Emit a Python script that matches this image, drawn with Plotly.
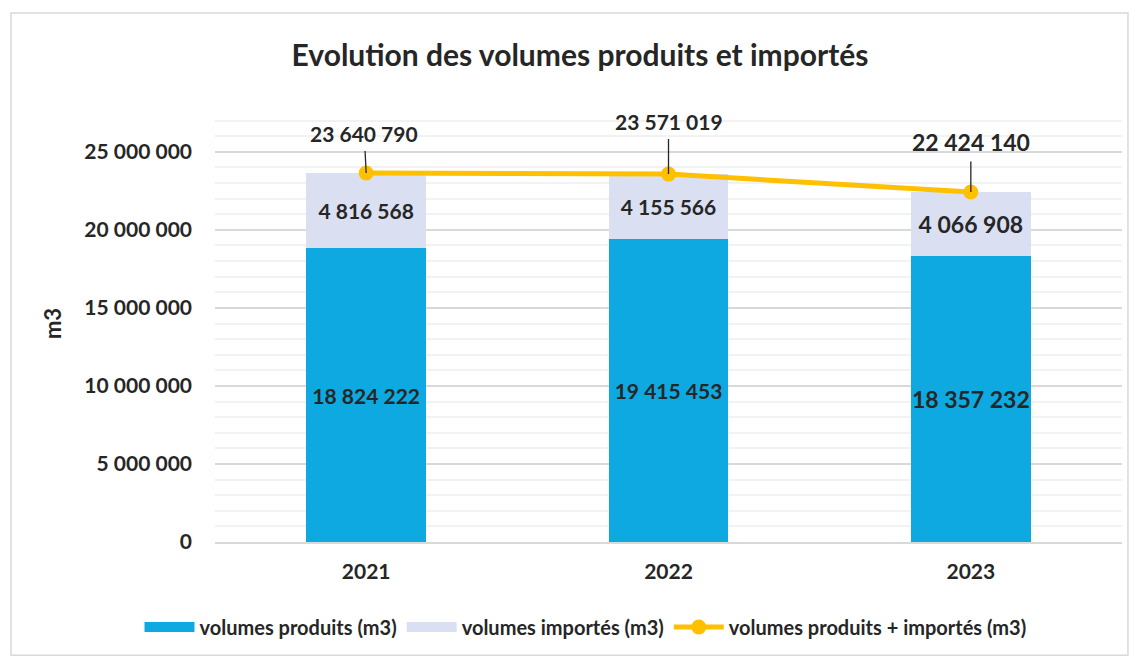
import plotly.graph_objects as go

years = ["2021", "2022", "2023"]
produits = [18824222, 19415453, 18357232]
importes = [4816568, 4155566, 4066908]
totaux = [23640790, 23571019, 22424140]
y_ticks = [0, 5000000, 10000000, 15000000, 20000000, 25000000]

FONT = "Lato"
TXT = "#262626"
C_PROD = "#0DA9E0"
C_IMP = "#DAE0F2"
C_TOT = "#FFC000"
label_sizes = [21, 21, 23]

fig = go.Figure()
fig.add_trace(go.Bar(
    x=years, y=produits, name="volumes produits (m3)",
    legendgroup="prod", showlegend=False,
    marker=dict(color=C_PROD, line=dict(width=0)),
    texttemplate="%{y:,.0f}", textposition="inside", insidetextanchor="middle",
    constraintext="none", textangle=0,
    textfont=dict(family=FONT, size=label_sizes, color=TXT, weight="bold"),
))
fig.add_trace(go.Bar(
    x=years, y=importes, name="volumes importés (m3)",
    legendgroup="imp", showlegend=False,
    marker=dict(color=C_IMP, line=dict(width=0)),
    texttemplate="%{y:,.0f}", textposition="inside", insidetextanchor="middle",
    constraintext="none", textangle=0,
    textfont=dict(family=FONT, size=label_sizes, color=TXT, weight="bold"),
))
fig.add_trace(go.Scatter(
    x=years, y=totaux, name="volumes produits + importés (m3)",
    mode="lines+markers", legendgroup="tot", showlegend=False,
    line=dict(color=C_TOT, width=5),
    marker=dict(color=C_TOT, size=15),
))
# legend entries (wide swatches like the original)
for name, col, grp in [("volumes produits (m3)", C_PROD, "prod"),
                       ("volumes importés (m3)", C_IMP, "imp")]:
    fig.add_trace(go.Scatter(x=[None], y=[None], mode="lines", name=name, legendgroup=grp,
                             line=dict(color=col, width=14), hoverinfo="skip"))
fig.add_trace(go.Scatter(x=[None], y=[None], mode="lines+markers",
                         name="volumes produits + importés (m3)", legendgroup="tot",
                         line=dict(color=C_TOT, width=5), marker=dict(color=C_TOT, size=15),
                         hoverinfo="skip"))

offsets = [(-2, -40), (0, -53), (0, -50)]
for i, (y, (ax, ay)) in enumerate(zip(totaux, offsets)):
    fig.add_annotation(
        x=i, y=y, text=f"{y:,}".replace(",", " "),
        showarrow=True, arrowhead=0, arrowwidth=1.3, arrowcolor=TXT,
        ax=ax, ay=ay, borderpad=5, standoff=0,
        font=dict(family=FONT, size=label_sizes[i], color=TXT, weight="bold"),
    )

fig.add_shape(type="rect", xref="paper", yref="paper",
              x0=-0.2249, x1=1.0066, y0=-0.259, y1=1.2105,
              line=dict(color="#D9D9D9", width=1.5), fillcolor="rgba(0,0,0,0)",
              layer="below")

fig.update_layout(
    width=1138, height=657,
    paper_bgcolor="white", plot_bgcolor="white",
    separators=". ",
    barmode="stack", bargap=0.605,
    margin=dict(l=207, r=24, t=97, b=123),
    font=dict(family=FONT, color=TXT, size=17),
    title=dict(text="<b>Evolution des volumes produits et importés</b>",
               x=572 / 1138, xref="container", xanchor="center",
               y=1 - 47 / 657, yref="container", yanchor="middle",
               font=dict(family=FONT, size=30, color=TXT)),
    legend=dict(orientation="h", x=0.4085, xanchor="center", y=-0.1945, yanchor="middle",
                font=dict(family=FONT, size=20, color=TXT, weight="bold"),
                itemwidth=50, traceorder="normal"),
    showlegend=True,
)
fig.update_xaxes(
    type="category", range=[-0.5, 2.5],
    showline=True, linecolor="#D9D9D9", linewidth=1.5,
    tickfont=dict(family=FONT, size=21, color=TXT, weight="bold"),
    ticks="", ticklabelstandoff=10,
)
fig.update_yaxes(
    range=[0, 28000000], tickvals=y_ticks, tickformat=",d",
    showgrid=True, gridcolor="#D9D9D9", gridwidth=1.5,
    minor=dict(dtick=1000000, showgrid=True, gridcolor="#F2F2F2", gridwidth=1.5),
    zeroline=False, showline=False, ticks="",
    ticklabelstandoff=22,
    tickfont=dict(family=FONT, size=21, color=TXT, weight="bold"),
    title=dict(text="<b>m3</b>", standoff=16, font=dict(family=FONT, size=22, color=TXT)),
)

fig.write_html("out.html")
